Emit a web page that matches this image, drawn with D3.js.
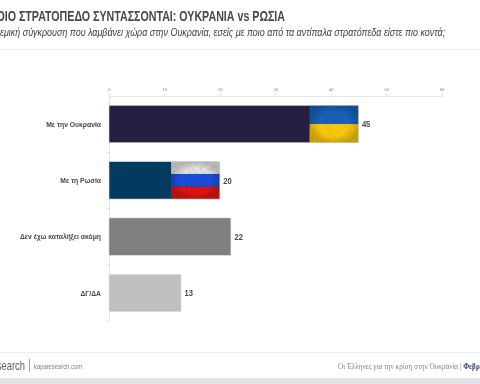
<!DOCTYPE html>
<html>
<head>
<meta charset="utf-8">
<script src="https://cdn.jsdelivr.net/npm/d3@7"></script>
<style>
  html, body { margin: 0; padding: 0; background: #fff; overflow: hidden; }
  svg { display: block; filter: blur(0.45px); }
</style>
</head>
<body>
<svg id="chart"></svg>
<script>
// -----------------------------
// DATA
// -----------------------------
const categories = ["Με την Ουκρανία", "Με τη Ρωσία", "Δεν έχω καταλήξει ακόμη", "ΔΓ/ΔΑ"];
const values = [45, 20, 22, 13];
const barColors = ["#252041", "#033a60", "#7f7f7f", "#bfbfbf"];
const xTicks = [0, 10, 20, 30, 40, 50, 60];

// where the flag picture starts inside the bar (in axis units)
const flagStarts = [36.2, 11.2, null, null];
const flagStripes = [
  [["#1a62b8", 0.5], ["#fbc90e", 0.5]],
  [["#e2e2e2", 0.33], ["#1a4fdc", 0.34], ["#e21414", 0.33]],
  null,
  null,
];

const titleText = "ΠΟΙΟ ΣΤΡΑΤΟΠΕΔΟ ΣΥΝΤΑΣΣΟΝΤΑΙ: ΟΥΚΡΑΝΙΑ vs ΡΩΣΙΑ";
const subtitleText = "Στην πολεμική σύγκρουση που λαμβάνει χώρα στην Ουκρανία, εσείς με ποιο από τα αντίπαλα στρατόπεδα είστε πιο κοντά;";
const brandText = "Kapa Research";
const siteText = "kaparesearch.com";
const footerText = "Οι Έλληνες για την κρίση στην Ουκρανία";
const footerDate = "Φεβρουάριος 2022";

// -----------------------------
// SETUP
// -----------------------------
const width = 480;
const height = 384;
const SANS = "'Liberation Sans', sans-serif";

const svg = d3.select("#chart")
  .attr("width", width)
  .attr("height", height);

const x = d3.scaleLinear().domain([0, 60]).range([109, 441.5]);
const y = d3.scaleBand().domain(categories).range([96, 321]).paddingInner(0.335).paddingOuter(0.165);

// no narrow face is installed, so squeeze the text sideways
function squeezed(parent, px, py, sx) {
  return parent.append("text")
    .attr("transform", `translate(${px},${py}) scale(${sx},1)`);
}

// -----------------------------
// HEADER
// -----------------------------
squeezed(svg, 285, 21, 0.762)
  .attr("text-anchor", "end")
  .attr("font-family", SANS)
  .attr("font-size", 14)
  .attr("font-weight", 700)
  .attr("fill", "#484848")
  .text(titleText);

squeezed(svg, 445, 36, 0.852)
  .attr("text-anchor", "end")
  .attr("font-family", SANS)
  .attr("font-style", "italic")
  .attr("font-size", 10.5)
  .attr("fill", "#404040")
  .text(subtitleText);

svg.append("line")
  .attr("x1", 0).attr("x2", width)
  .attr("y1", 49.5).attr("y2", 49.5)
  .attr("stroke", "#ececec");

// -----------------------------
// AXES
// -----------------------------
const xAxis = svg.append("g")
  .attr("transform", "translate(0,96)")
  .call(d3.axisTop(x).tickValues(xTicks).tickSize(3).tickPadding(2));

xAxis.select(".domain").attr("stroke", "#e4e4e4");
xAxis.selectAll(".tick line").attr("stroke", "#e4e4e4");
xAxis.selectAll("text")
  .attr("font-family", "'Liberation Serif', serif")
  .attr("font-size", 4.6)
  .attr("fill", "#808080");

const yAxis = svg.append("g")
  .attr("transform", "translate(109,0)")
  .call(d3.axisLeft(y).tickSize(0).tickPadding(0));

yAxis.select(".domain").attr("stroke", "#e4e4e4");
yAxis.selectAll("text")
  .attr("x", 0)
  .attr("transform", "translate(-8,0) scale(0.85,1)")
  .attr("font-family", SANS)
  .attr("font-size", 8)
  .attr("font-weight", 700)
  .attr("fill", "#484848");

// little separators between the categories
svg.append("g")
  .selectAll("line")
  .data(categories)
  .join("line")
  .attr("x1", 106).attr("x2", 109)
  .attr("y1", (d, i) => 96 + y.step() * (i + 1))
  .attr("y2", (d, i) => 96 + y.step() * (i + 1))
  .attr("stroke", "#e4e4e4");

// -----------------------------
// FLAG TEXTURE
// -----------------------------
const defs = svg.append("defs");

const grunge = defs.append("filter")
  .attr("id", "grunge")
  .attr("x", 0).attr("y", 0).attr("width", 1).attr("height", 1);

grunge.append("feTurbulence")
  .attr("type", "fractalNoise")
  .attr("baseFrequency", 0.35)
  .attr("numOctaves", 2)
  .attr("seed", 4);

grunge.append("feColorMatrix")
  .attr("values", "0 0 0 0 0  0 0 0 0 0  0 0 0 0 0  0 0 0 1.1 -0.42");

const vignette = defs.append("radialGradient").attr("id", "vignette");
vignette.append("stop").attr("offset", "65%").attr("stop-color", "#000").attr("stop-opacity", 0);
vignette.append("stop").attr("offset", "100%").attr("stop-color", "#000").attr("stop-opacity", 0.18);

// -----------------------------
// BARS
// -----------------------------
const bars = svg.append("g")
  .selectAll("g")
  .data(categories)
  .join("g");

bars.append("rect")
  .attr("x", x(0))
  .attr("y", d => y(d))
  .attr("width", (d, i) => x(values[i]) - x(0))
  .attr("height", y.bandwidth())
  .attr("fill", (d, i) => barColors[i]);

// flags painted on the end of the first two bars
bars.each(function (d, i) {
  if (flagStarts[i] === null) return;

  const g = d3.select(this);
  const fx = x(flagStarts[i]);
  const fw = x(values[i]) - fx;
  let fy = y(d);

  flagStripes[i].forEach(([color, share]) => {
    const h = y.bandwidth() * share;
    g.append("rect").attr("x", fx).attr("y", fy).attr("width", fw).attr("height", h).attr("fill", color);
    fy += h;
  });

  g.append("rect").attr("x", fx).attr("y", y(d)).attr("width", fw).attr("height", y.bandwidth())
    .attr("filter", "url(#grunge)").attr("opacity", 0.16);
  g.append("rect").attr("x", fx).attr("y", y(d)).attr("width", fw).attr("height", y.bandwidth())
    .attr("fill", "url(#vignette)");
});

// thin pale edge around each bar
bars.append("rect")
  .attr("x", x(0))
  .attr("y", d => y(d))
  .attr("width", (d, i) => x(values[i]) - x(0))
  .attr("height", y.bandwidth())
  .attr("fill", "none")
  .attr("stroke", "#e0e2e6")
  .attr("stroke-width", 0.6);

bars.each(function (d, i) {
  squeezed(d3.select(this), x(values[i]) + 3.5, y(d) + y.bandwidth() / 2, 0.8)
    .attr("dy", "0.35em")
    .attr("font-family", SANS)
    .attr("font-size", 9.5)
    .attr("font-weight", 700)
    .attr("fill", "#484848")
    .text(values[i]);
});

// -----------------------------
// FOOTER
// -----------------------------
svg.append("line")
  .attr("x1", 0).attr("x2", width)
  .attr("y1", 352.5).attr("y2", 352.5)
  .attr("stroke", "#ececec");

svg.append("rect")
  .attr("x", 0).attr("y", 378)
  .attr("width", width).attr("height", 6)
  .attr("fill", "#e2e2e8");

squeezed(svg, 25, 370, 0.72)
  .attr("text-anchor", "end")
  .attr("font-family", SANS)
  .attr("font-size", 13)
  .attr("fill", "#606060")
  .text(brandText);

svg.append("line")
  .attr("x1", 29.5).attr("x2", 29.5)
  .attr("y1", 359).attr("y2", 372)
  .attr("stroke", "#a0a0a0");

squeezed(svg, 34, 369, 0.79)
  .attr("font-family", SANS)
  .attr("font-size", 7.4)
  .attr("fill", "#808080")
  .text(siteText);

const foot = squeezed(svg, 338, 369, 0.97)
  .attr("font-family", "'Liberation Serif', serif")
  .attr("font-size", 7.4)
  .attr("fill", "#808080");

foot.append("tspan").text(footerText + " | ");
foot.append("tspan").attr("font-weight", 700).attr("fill", "#2f3a68").text(footerDate);
</script>
</body>
</html>
